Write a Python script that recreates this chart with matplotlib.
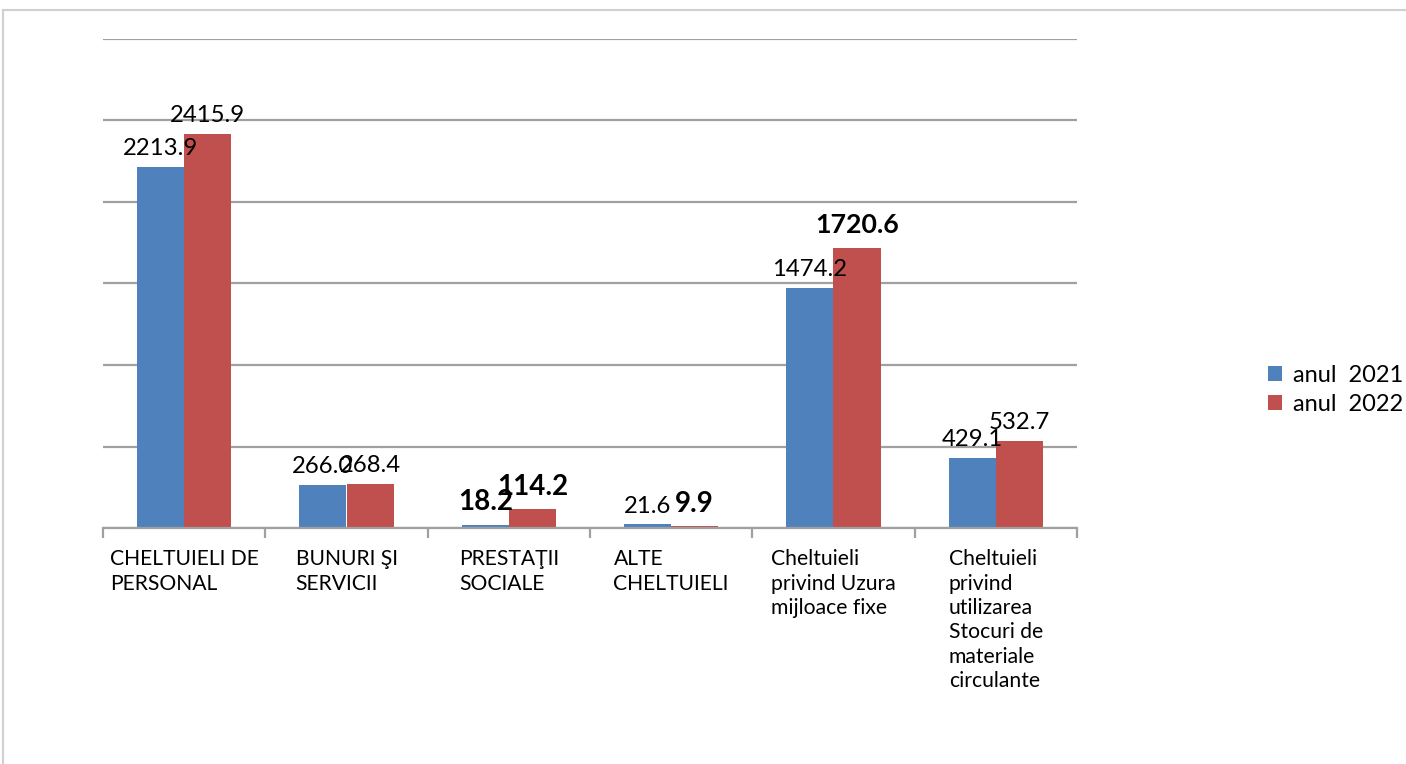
import matplotlib
matplotlib.use("Agg")
import matplotlib.pyplot as plt
from matplotlib.patches import Patch
from matplotlib.lines import Line2D
import numpy as np

plt.rcParams['font.family'] = ['Lato', 'DejaVu Sans']

categories = ["CHELTUIELI DE\nPERSONAL", "BUNURI ŞI\nSERVICII", "PRESTAŢII\nSOCIALE",
              "ALTE\nCHELTUIELI", "Cheltuieli\nprivind Uzura\nmijloace fixe",
              "Cheltuieli\nprivind\nutilizarea\nStocuri de\nmateriale\ncirculante"]
series_names = ["anul  2021", "anul  2022"]
values_2021 = [2213.9, 266.0, 18.2, 21.6, 1474.2, 429.1]
values_2022 = [2415.9, 268.4, 114.2, 9.9, 1720.6, 532.7]
labels_2021 = ["2213.9", "266.0", "18.2", "21.6", "1474.2", "429.1"]
labels_2022 = ["2415.9", "268.4", "114.2", "9.9", "1720.6", "532.7"]
bold_2021 = [False, False, True, False, False, False]
bold_2022 = [False, False, True, True, True, False]
colors = ["#4F81BD", "#C0504D"]

W, H = 1406, 764
fig = plt.figure(figsize=(W / 100, H / 100), dpi=100)
ax = fig.add_axes([103 / W, 1 - 528 / H, (1077 - 103) / W, (528 - 39) / H])

# outer chart-area border
fig.add_artist(Line2D([3 / W, 1.0], [1 - 10 / H, 1 - 10 / H], transform=fig.transFigure,
                      color="#d0d0d0", lw=1.5))
fig.add_artist(Line2D([3 / W, 3 / W], [0, 1 - 10 / H], transform=fig.transFigure,
                      color="#d0d0d0", lw=1.5))

x = np.arange(len(categories))
bw = 0.29
ax.bar(x - bw / 2, values_2021, bw, color=colors[0], zorder=3)
ax.bar(x + bw / 2, values_2022, bw, color=colors[1], zorder=3)

def label(xpos, val, txt, bold):
    if bold:
        size = 19.3 if val > 1000 else 20
        ax.annotate(txt, (xpos, val), xytext=(0, 10.5), textcoords="offset points",
                    ha="center", va="baseline", fontsize=size, fontweight="bold", zorder=5)
    else:
        ax.annotate(txt, (xpos, val), xytext=(0, 8.5), textcoords="offset points",
                    ha="center", va="baseline", fontsize=17.2, zorder=5)

for i in range(len(categories)):
    label(x[i] - bw / 2, values_2021[i], labels_2021[i], bold_2021[i])
    label(x[i] + bw / 2, values_2022[i], labels_2022[i], bold_2022[i])

ax.set_xlim(-0.5, len(categories) - 0.5)
ax.set_ylim(0, 3000)
ax.set_yticks(np.arange(0, 3001, 500))
ax.set_yticklabels([])
ax.tick_params(axis="y", length=0)
ax.grid(axis="y", color="#a0a0a0", lw=1.6, zorder=0)
for s in ["top", "right", "left"]:
    ax.spines[s].set_visible(False)
ax.spines["bottom"].set_color("#a0a0a0")
ax.spines["bottom"].set_linewidth(1.6)
ax.spines["bottom"].set_zorder(4)

ax.set_xticks(np.arange(-0.5, len(categories)), minor=False)
ax.set_xticklabels([])
ax.tick_params(axis="x", length=7, width=1.6, color="#a0a0a0", direction="out")
for i, c in enumerate(categories):
    ax.text(i, -0.043, c, transform=ax.get_xaxis_transform(),
            ha="center", va="top", multialignment="left", fontsize=15.2, linespacing=1.28)

handles = [Patch(facecolor=colors[0]), Patch(facecolor=colors[1])]
fig.legend(handles, series_names, loc="center left", bbox_to_anchor=(1268 / W, 1 - 390 / H),
           frameon=False, fontsize=17, handlelength=0.6, handleheight=0.6,
           handletextpad=0.45, labelspacing=0.35, borderpad=0, borderaxespad=0)

fig.savefig("out.png", dpi=100)
